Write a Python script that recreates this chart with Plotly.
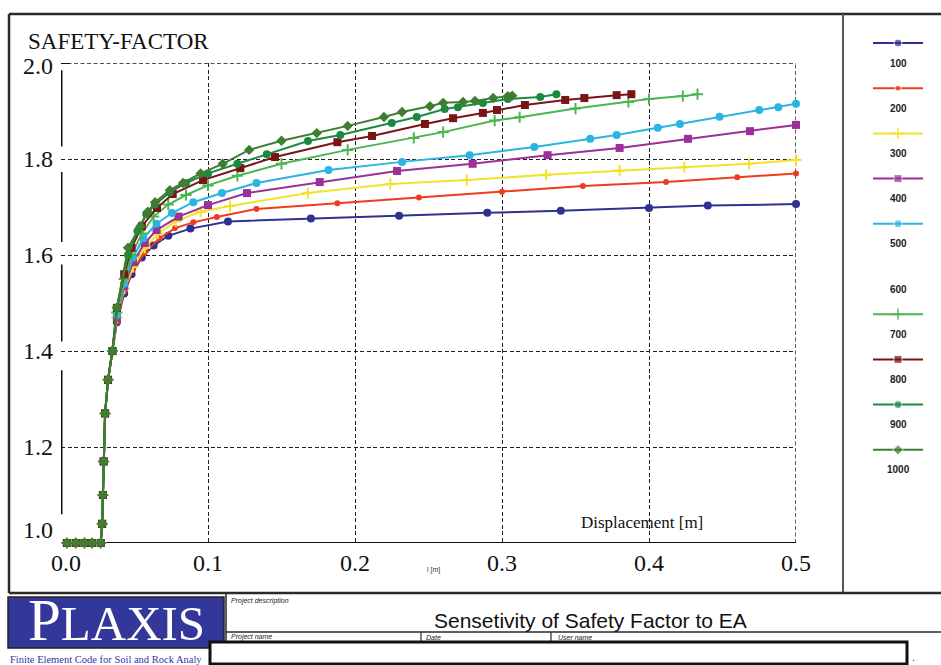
import plotly.graph_objects as go

W, H = 941, 665

# ---------------- data ----------------
x_start = [0.004, 0.010, 0.016, 0.021, 0.027, 0.028, 0.0285, 0.029, 0.030, 0.032, 0.035]
y_start = [1.0, 1.0, 1.0, 1.0, 1.0, 1.04, 1.10, 1.17, 1.27, 1.34, 1.40]

ea100_x = [0.038, 0.043, 0.048, 0.055, 0.063, 0.073, 0.088, 0.1136, 0.17, 0.23, 0.29, 0.34, 0.40, 0.44, 0.50]
ea100_y = [1.46, 1.52, 1.56, 1.595, 1.62, 1.64, 1.655, 1.670, 1.676, 1.682, 1.688, 1.692, 1.698, 1.703, 1.706]

ea200_x = [0.038, 0.043, 0.049, 0.057, 0.067, 0.0776, 0.09, 0.106, 0.133, 0.188, 0.2435, 0.30, 0.355, 0.4116, 0.46, 0.50]
ea200_y = [1.46, 1.525, 1.57, 1.605, 1.635, 1.656, 1.668, 1.679, 1.696, 1.708, 1.720, 1.732, 1.744, 1.752, 1.762, 1.770]

ea300_x = [0.038, 0.043, 0.049, 0.057, 0.066, 0.078, 0.095, 0.115, 0.168, 0.224, 0.276, 0.33, 0.38, 0.424, 0.468, 0.50]
ea300_y = [1.47, 1.53, 1.575, 1.615, 1.645, 1.67, 1.69, 1.702, 1.729, 1.748, 1.756, 1.767, 1.776, 1.783, 1.790, 1.798]

ea400_x = [0.038, 0.043, 0.049, 0.057, 0.065, 0.08, 0.10, 0.1265, 0.176, 0.2286, 0.28, 0.331, 0.38, 0.4265, 0.4687, 0.50]
ea400_y = [1.47, 1.535, 1.585, 1.625, 1.652, 1.68, 1.704, 1.729, 1.752, 1.775, 1.790, 1.808, 1.823, 1.842, 1.858, 1.871]

ea500_x = [0.038, 0.043, 0.049, 0.056, 0.065, 0.0755, 0.09, 0.1095, 0.133, 0.182, 0.232, 0.278, 0.322, 0.36,
           0.378, 0.406, 0.421, 0.448, 0.475, 0.488, 0.50]
ea500_y = [1.475, 1.54, 1.595, 1.635, 1.665, 1.6875, 1.71, 1.729, 1.75, 1.777, 1.794, 1.808, 1.825, 1.842,
           1.85, 1.865, 1.873, 1.888, 1.902, 1.908, 1.915]

ea700_x = [0.038, 0.043, 0.048, 0.055, 0.063, 0.073, 0.085, 0.10, 0.12, 0.15, 0.195, 0.24, 0.26, 0.295,
           0.312, 0.35, 0.386, 0.40, 0.423, 0.433]
ea700_y = [1.48, 1.55, 1.60, 1.645, 1.68, 1.705, 1.725, 1.745, 1.765, 1.79, 1.819, 1.844, 1.856, 1.88,
           1.887, 1.905, 1.919, 1.925, 1.931, 1.935]

ea800_x = [0.038, 0.043, 0.048, 0.055, 0.0653, 0.076, 0.0966, 0.122, 0.1456, 0.188, 0.2116, 0.2476, 0.2667,
           0.287, 0.2966, 0.3156, 0.343, 0.356, 0.378, 0.388]
ea800_y = [1.49, 1.56, 1.615, 1.66, 1.698, 1.727, 1.756, 1.781, 1.804, 1.835, 1.848, 1.873, 1.885,
           1.896, 1.902, 1.9125, 1.923, 1.927, 1.933, 1.935]

ea900_x = [0.038, 0.0456, 0.052, 0.058, 0.064, 0.074, 0.085, 0.10, 0.12, 0.14, 0.168, 0.19, 0.225, 0.242,
           0.261, 0.27, 0.287, 0.304, 0.326, 0.337]
ea900_y = [1.49, 1.60, 1.65, 1.685, 1.705, 1.73, 1.75, 1.77, 1.79, 1.81, 1.8375, 1.85, 1.875, 1.8875,
           1.904, 1.908, 1.9166, 1.925, 1.929, 1.935]

ea1000_x = [0.038, 0.0456, 0.054, 0.059, 0.064, 0.074, 0.083, 0.095, 0.11, 0.128, 0.15, 0.174, 0.195, 0.2197,
            0.232, 0.251, 0.26, 0.2735, 0.2816, 0.294, 0.304, 0.307]
ea1000_y = [1.49, 1.615, 1.66, 1.69, 1.71, 1.735, 1.75, 1.77, 1.79, 1.819, 1.838, 1.854, 1.869, 1.8875,
            1.898, 1.91, 1.917, 1.919, 1.921, 1.927, 1.931, 1.932]

series_names = ["100", "200", "300", "400", "500", "600", "700", "800", "900", "1000"]
series_x = [ea100_x, ea200_x, ea300_x, ea400_x, ea500_x, None, ea700_x, ea800_x, ea900_x, ea1000_x]
series_y = [ea100_y, ea200_y, ea300_y, ea400_y, ea500_y, None, ea700_y, ea800_y, ea900_y, ea1000_y]

x_ticks = [0.0, 0.1, 0.2, 0.3, 0.4, 0.5]
y_ticks = [1.0, 1.2, 1.4, 1.6, 1.8, 2.0]

# ---------------- styles ----------------
colors = ["#2e3192", "#f03c1e", "#f2e22c", "#9c2f98", "#2ab4e2", None, "#4cb450", "#7b1414", "#1a8a40", "#3f7e32"]
symbols = ["circle", "circle", "cross-thin", "square", "circle", None, "cross-thin", "square", "circle", "diamond"]
msizes = [8, 6, 8, 8, 8, None, 8, 8, 8, 8]

SERIF = "Liberation Serif"
SANS = "Liberation Sans"
DASH = "4px,2.5px"

fig = go.Figure()
ann = []

for name, xs, ys, c, s, m in zip(series_names, series_x, series_y, colors, symbols, msizes):
    if xs is None:
        continue
    mk = dict(symbol=s, size=m, color=c)
    if s == "cross-thin":
        mk["line"] = dict(color=c, width=2)
    fig.add_trace(go.Scatter(
        x=x_start + xs, y=y_start + ys, mode="lines+markers", name=name,
        line=dict(color=c, width=2), marker=mk, cliponaxis=False,
        xaxis="x", yaxis="y", showlegend=False))

# custom legend (symbol above, label below) on a pixel-scaled overlay axis
for i, (name, c, s, m) in enumerate(zip(series_names, colors, symbols, msizes)):
    ly = 43 + 45.2 * i
    if c is not None:
        mk = dict(symbol=s, size=[0, m, 0], color=c)
        if s == "cross-thin":
            mk["line"] = dict(color=c, width=2)
        fig.add_trace(go.Scatter(
            x=[873, 898, 923], y=[ly, ly, ly], mode="lines+markers",
            line=dict(color=c, width=2), marker=mk, xaxis="x2", yaxis="y2",
            showlegend=False, hoverinfo="skip"))
    ann.append(dict(x=898, y=ly + 20, xref="x2", yref="y2", text="<b>%s</b>" % name,
                    showarrow=False, font=dict(family=SANS, size=10, color="#222")))

grid = dict(showgrid=True, gridcolor="#1e1e1e", gridwidth=1.4, griddash=DASH,
            zeroline=False, showline=False, ticks="", showticklabels=False)

fig.update_layout(
    width=W, height=H, margin=dict(l=0, r=0, t=0, b=0),
    paper_bgcolor="white", plot_bgcolor="rgba(0,0,0,0)", showlegend=False,
    xaxis=dict(domain=[61 / W, 796 / W], range=[0, 0.5], tickvals=x_ticks[1:], anchor="y", **grid),
    yaxis=dict(domain=[1 - 543 / H, 1 - 63 / H], range=[1.0, 2.0], tickvals=y_ticks[1:], anchor="x", **grid),
    xaxis2=dict(domain=[0, 1], range=[0, W], visible=False, anchor="y2", fixedrange=True),
    yaxis2=dict(domain=[0, 1], range=[H, 0], visible=False, anchor="x2", fixedrange=True),
)

shapes = []
# top (2.0) and right (0.5) dashed borders
shapes.append(dict(type="line", xref="x", yref="y", x0=0, x1=0.5, y0=2.0, y1=2.0,
                   line=dict(color="#1e1e1e", width=1.4, dash=DASH), layer="below"))
shapes.append(dict(type="line", xref="x", yref="y", x0=0.5, x1=0.5, y0=1.0, y1=2.0,
                   line=dict(color="#1e1e1e", width=1.4, dash=DASH), layer="below"))
# baseline at 1.0 and segmented vertical axis
shapes.append(dict(type="line", xref="x", yref="y", x0=0, x1=0.5, y0=1.0, y1=1.0,
                   line=dict(color="#111", width=2), layer="below"))
for a, b in [(1.985, 1.826), (1.773, 1.627), (1.58, 1.42), (1.36, 1.06)]:
    shapes.append(dict(type="line", xref="x", yref="y", x0=0, x1=0, y0=a, y1=b,
                       line=dict(color="#111", width=3)))
shapes.append(dict(type="line", xref="x", yref="y", x0=0, x1=0.006, y0=2.0, y1=2.0,
                   line=dict(color="#111", width=2)))


def pxline(x0, y0, x1, y1, w=2, c="#2a2a2a"):
    shapes.append(dict(type="line", xref="x2", yref="y2", x0=x0, y0=y0, x1=x1, y1=y1,
                       line=dict(color=c, width=w)))


# outer frame
pxline(9, 14, 941, 14, 2.5)
pxline(9, 14, 9, 593, 2.5)
pxline(843, 14, 843, 593, 2, "#555")
pxline(9, 593, 941, 593, 2.5)
# title block
shapes.append(dict(type="rect", xref="x2", yref="y2", x0=8, x1=224, y0=597, y1=648,
                   fillcolor="#34379a", line=dict(color="#222", width=1.5)))
pxline(226, 593, 226, 665, 1.5)
pxline(226, 632, 941, 632, 1.5)
pxline(421, 632, 421, 665, 1.2)
pxline(551, 632, 551, 665, 1.2)
shapes.append(dict(type="rect", xref="x2", yref="y2", x0=210, x1=907, y0=642, y1=664,
                   fillcolor="white", line=dict(color="#111", width=3)))
fig.update_layout(shapes=shapes)

ann.append(dict(x=26, y=41, xref="x2", yref="y2", text="SAFETY-FACTOR", xanchor="left",
                showarrow=False, font=dict(family=SERIF, size=23, color="#111")))
yshift = {1.0: 13, 2.0: -3}
for v in y_ticks:
    ann.append(dict(x=55, y=v, xref="x2", yref="y", text="%.1f" % v, xanchor="right",
                    yshift=yshift.get(v, 0), showarrow=False,
                    font=dict(family=SERIF, size=24, color="#111")))
for v in x_ticks:
    ann.append(dict(x=v, y=563, xref="x", yref="y2", text="%.1f" % v,
                    xshift=5 if v == 0 else 0, showarrow=False,
                    font=dict(family=SERIF, size=24, color="#111")))
ann.append(dict(x=642, y=522, xref="x2", yref="y2", text="Displacement [m]", showarrow=False,
                font=dict(family=SERIF, size=17, color="#111")))
ann.append(dict(x=433, y=570, xref="x2", yref="y2", text="l [m]", showarrow=False,
                font=dict(family=SANS, size=7, color="#333")))
# title block text
ann.append(dict(x=116, y=620, xref="x2", yref="y2", height=48, valign="middle",
                text="P<span style='font-size:49px'>LAXIS</span>", showarrow=False,
                font=dict(family=SERIF, size=59, color="white")))
ann.append(dict(x=8, y=659, xref="x2", yref="y2", text="Finite Element Code for Soil and Rock Analy",
                xanchor="left", showarrow=False, font=dict(family=SERIF, size=10.5, color="#3333aa")))
ann.append(dict(x=229, y=601, xref="x2", yref="y2", text="<i>Project description</i>", xanchor="left",
                showarrow=False, font=dict(family=SANS, size=7, color="#222")))
ann.append(dict(x=590, y=620, xref="x2", yref="y2", text="Sensetivity of Safety Factor to EA",
                showarrow=False, font=dict(family=SANS, size=21, color="#111")))
for tx, xx in [("Project name", 229), ("Date", 424), ("User name", 556)]:
    ann.append(dict(x=xx, y=637, xref="x2", yref="y2", text="<i>%s</i>" % tx, xanchor="left",
                    showarrow=False, font=dict(family=SANS, size=7, color="#222")))
ann.append(dict(x=913, y=657, xref="x2", yref="y2", text=".", showarrow=False,
                font=dict(family=SANS, size=10, color="#222")))
fig.update_layout(annotations=ann)

fig.write_html("out.html")
